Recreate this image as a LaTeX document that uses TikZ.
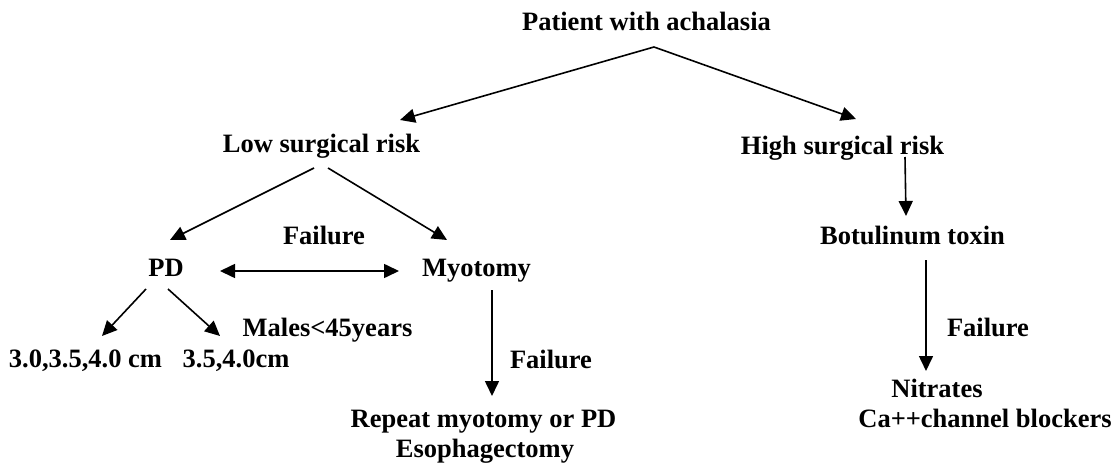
\documentclass[tikz,border=0pt]{standalone}
\usepackage{fontspec}
\setmainfont{Liberation Serif}
\usetikzlibrary{arrows.meta,calc}
\begin{document}
\begin{tikzpicture}[x=1pt,y=-1pt,
  lbl/.style={anchor=base,inner sep=0pt,outer sep=0pt,
    font=\fontsize{26.5}{30}\selectfont\bfseries},
  arr/.style={line width=1.6pt,-{Triangle[length=15pt,width=14pt]}},
  darr/.style={line width=1.6pt,{Triangle[length=15pt,width=14pt]}-{Triangle[length=15pt,width=14pt]}}]
\useasboundingbox (0,0) rectangle (1119,468);

% nodes, placed by their baselines
\node[lbl] (title) at (646.5,31) {Patient with achalasia};
\node[lbl] (low)   at (321.5,153) {Low surgical risk};
\node[lbl] (high)  at (842.5,154) {High surgical risk};
\node[lbl] (pd)    at (166,276) {PD};
\node[lbl] (myo)   at (476.5,276) {Myotomy};
\node[lbl] (failA) at (324,244) {Failure};
\node[lbl] (sizeA) at (85.5,367) {3.0,3.5,4.0 cm};
\node[lbl] (sizeB) at (236,367) {3.5,4.0cm};
\node[lbl] (males) at (327.5,336) {Males<45years};
\node[lbl] (failB) at (551,368) {Failure};
\node[lbl] (rep)   at (483.5,427) {Repeat myotomy or PD};
\node[lbl] (eso)   at (485,457) {Esophagectomy};
\node[lbl] (bot)   at (912.5,244) {Botulinum toxin};
\node[lbl] (failC) at (988,336) {Failure};
\node[lbl] (nit)   at (937,397) {Nitrates};
\node[lbl] (ca)    at (985,427) {Ca++channel blockers};

% connectors
\coordinate (split) at ($(title.base)+(7.5,16)$);
\draw[arr] (split) -- ($(low.base)+(78.5,-33)$);
\draw[arr] (split) -- ($(high.base)+(13.5,-35)$);
\draw[arr] ($(low.base)+(-7.5,15)$) -- ($(pd.base)+(4,-36)$);
\draw[arr] ($(low.base)+(6.5,15)$) -- ($(myo.base)+(-29.5,-36)$);
\draw[darr] ($(pd.base)+(54,-5)$) -- ($(myo.base)+(-77.5,-5)$);
\draw[arr] ($(pd.base)+(-20,13)$) -- ($(sizeA.base)+(16.5,-31)$);
\draw[arr] ($(pd.base)+(2,13)$) -- ($(sizeB.base)+(-16,-31)$);
\draw[arr] ($(myo.base)+(15.5,14)$) -- ($(rep.base)+(8.5,-31)$);
\draw[arr] ($(high.base)+(62.5,3)$) -- ($(bot.base)+(-6.5,-28)$);
\draw[arr] ($(bot.base)+(13.5,16)$) -- ($(nit.base)+(-11,-26)$);
\end{tikzpicture}
\end{document}
